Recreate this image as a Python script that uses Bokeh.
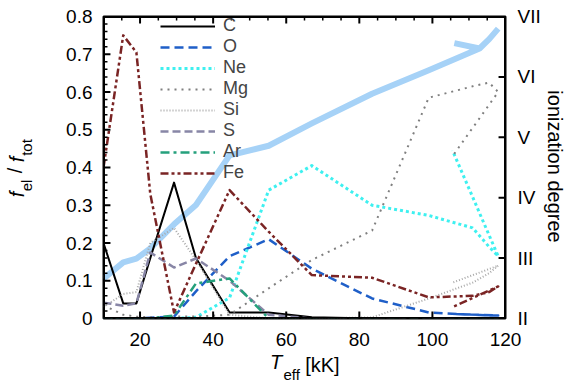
import numpy as np
from bokeh.plotting import figure
from bokeh.models import (Range1d, LinearAxis, FixedTicker, Legend, LegendItem,
                          ColumnDataSource, Span, BoxAnnotation)
from bokeh.embed import file_html
from bokeh.resources import INLINE

# ---------------- data ----------------
teff = [10, 15.4, 19, 22.8, 29.3, 35.3, 44.5, 55.2, 67, 83.5, 99, 111, 115.5, 118, 105.5]

frac_C  = [0.20, 0.04, 0.04, 0.16, 0.36, 0.16, 0.016, 0.016, 0.003, 0.0, 0.0, 0.0, 0.0, 0.0, 0.0]
frac_O  = [0.0, 0.0, 0.0, 0.002, 0.005, 0.072, 0.165, 0.21, 0.132, 0.053, 0.016, 0.01, 0.008, 0.008, 0.012]
frac_Ne = [0.0, 0.0, 0.0, 0.0, 0.0, 0.003, 0.055, 0.34, 0.405, 0.30, 0.273, 0.24, 0.19, 0.165, 0.445]
frac_Mg = [0.035, 0.01, 0.005, 0.003, 0.005, 0.005, 0.01, 0.08, 0.155, 0.233, 0.585, 0.615, 0.625, 0.60, 0.43]
frac_Si = [0.03, 0.065, 0.07, 0.20, 0.24, 0.155, 0.01, 0.0, 0.0, 0.003, 0.053, 0.095, 0.12, 0.14, 0.095]
frac_S  = [0.042, 0.034, 0.04, 0.175, 0.135, 0.159, 0.10, 0.01, 0.0, 0.0, 0.0, 0.0, 0.0, 0.0, 0.0]
frac_Ar = [0.0, 0.0, 0.0, 0.0, 0.008, 0.093, 0.106, 0.0, 0.0, 0.0, 0.0, 0.0, 0.0, 0.0, 0.0]
frac_Fe = [0.40, 0.75, 0.705, 0.33, 0.016, 0.145, 0.34, 0.23, 0.115, 0.108, 0.056, 0.06, 0.07, 0.085, 0.03]

# mean ionization degree (right axis); NaN separates the short spur near 106 kK
ion_teff   = [10, 15.4, 19, 22.8, 29.3, 35.3, 44.5, 55.2, 67, 83.5, 99, 112.9, 115.6, 118, float("nan"), 106, 112.9]
ion_degree = [2.66, 2.93, 2.99, 3.16, 3.56, 3.88, 4.70, 4.86, 5.23, 5.72, 6.11, 6.47, 6.63, 6.80, float("nan"), 6.56, 6.47]

elements = ["C", "O", "Ne", "Mg", "Si", "S", "Ar", "Fe"]

x_ticks = [20, 40, 60, 80, 100, 120]
x_minor = [15, 25, 30, 35, 45, 50, 55, 65, 70, 75, 85, 90, 95, 105, 110, 115]
y_ticks = [0, 0.1, 0.2, 0.3, 0.4, 0.5, 0.6, 0.7, 0.8]
y_tick_labels = ["0", "0.1", "0.2", "0.3", "0.4", "0.5", "0.6", "0.7", "0.8"]
y_minor = [0.02, 0.04, 0.06, 0.08, 0.12, 0.14, 0.16, 0.18, 0.22, 0.24, 0.26, 0.28,
           0.32, 0.34, 0.36, 0.38, 0.42, 0.44, 0.46, 0.48, 0.52, 0.54, 0.56, 0.58,
           0.62, 0.64, 0.66, 0.68, 0.72, 0.74, 0.76, 0.78]
roman_ticks = [2, 3, 4, 5, 6, 7]
roman_labels = ["II", "III", "IV", "V", "VI", "VII"]

# ---------------- styling ----------------
FONT = "Liberation Sans"
INK = "#000000"
styles = {
    "C":  dict(color="#000000", dash="solid",          width=2.0),
    "O":  dict(color="#1f5fc8", dash="9 5",            width=2.5),
    "Ne": dict(color="#3ef0f0", dash="3 3",            width=3.0),
    "Mg": dict(color="#7f7f7f", dash="2 5",            width=2.0),
    "Si": dict(color="#a8a8a8", dash="1 2",            width=2.0),
    "S":  dict(color="#8886a6", dash="8 4",            width=2.5),
    "Ar": dict(color="#25a07c", dash="9 4 3 4",        width=2.5),
    "Fe": dict(color="#7a2424", dash="8 3 3 3 3 3",    width=2.5),
}

X0, X1, Y0, Y1, D0, D1 = 10, 120, 0, 0.8, 2, 7
p = figure(width=568, height=388,
           x_range=Range1d(X0, X1), y_range=Range1d(Y0, Y1),
           output_backend="svg", toolbar_location=None,
           x_axis_location=None, y_axis_location=None,
           min_border_left=100, min_border_right=63,
           min_border_top=16, min_border_bottom=70)
p.extra_y_ranges = {"ion": Range1d(D0, D1)}
p.grid.visible = False
p.outline_line_color = INK
p.outline_line_width = 2
p.background_fill_color = None
p.border_fill_color = "#ffffff"

# frame size in pixels (used to convert pixel lengths to data lengths)
FW, FH = 405, 302
PXX = (X1 - X0) / FW
PXY = (Y1 - Y0) / FH
PXD = (D1 - D0) / FH


def xd(px):      # page pixel -> x data
    return X0 + (px - 100) * PXX


def yd(py):      # page pixel -> y data
    return Y0 + (318 - py) * PXY


def base_axis(ax, size, standoff, italic=False):
    ax.axis_line_color = None
    ax.major_tick_line_color = None
    ax.minor_tick_line_color = None
    ax.major_tick_in = 0
    ax.major_tick_out = 0
    ax.minor_tick_in = 0
    ax.minor_tick_out = 0
    ax.major_label_text_font = FONT
    ax.major_label_text_font_size = size
    ax.major_label_text_font_style = "italic" if italic else "normal"
    ax.major_label_text_color = INK
    ax.major_label_standoff = standoff


# numeric axes
left = LinearAxis(ticker=FixedTicker(ticks=y_ticks),
                  major_label_overrides=dict(zip(y_ticks, y_tick_labels)))
base_axis(left, "19px", 11)
p.add_layout(left, "left")

bottom = LinearAxis(ticker=FixedTicker(ticks=x_ticks))
base_axis(bottom, "19px", 14)
p.add_layout(bottom, "below")

right = LinearAxis(y_range_name="ion", ticker=FixedTicker(ticks=roman_ticks),
                   major_label_overrides=dict(zip(roman_ticks, roman_labels)))
base_axis(right, "19px", 12)
p.add_layout(right, "right")


def title_axis(side, pos, texts, size, standoff, italic=False, orientation="horizontal"):
    ax = LinearAxis(ticker=FixedTicker(ticks=pos),
                    major_label_overrides=dict(zip(pos, texts)))
    base_axis(ax, size, standoff, italic)
    ax.major_label_orientation = orientation
    p.add_layout(ax, side)


# x title: T_eff [kK]  (pieces placed as labels of stacked label-only axes)
title_axis("below", [xd(274)], ["T"], "20px", 2, italic=True)
title_axis("below", [xd(320.5)], ["[kK]"], "20px", -22)
title_axis("below", [xd(289.5)], ["eff"], "15px", -13)

# y title: f_el / f_tot (reading upward)
title_axis("left", [yd(185), yd(147)], ["el", "tot"], "15px", 29, orientation="vertical")
title_axis("left", [yd(194), yd(159)], ["f", "f"], "20px", -13, italic=True, orientation="vertical")
title_axis("left", [yd(170)], ["/"], "20px", -23, orientation="vertical")

# right title
title_axis("right", [yd(166)], ["ionization degree"], "20px", 0, orientation="vertical")

# ---------------- data lines ----------------
ion_src = ColumnDataSource(dict(x=np.array(ion_teff), y=np.array(ion_degree)))
p.line("x", "y", source=ion_src, y_range_name="ion", line_color="#a6d2f7",
       line_width=6, line_join="round")

series = {"C": frac_C, "O": frac_O, "Ne": frac_Ne, "Mg": frac_Mg,
          "Si": frac_Si, "S": frac_S, "Ar": frac_Ar, "Fe": frac_Fe}
items = []
for el in elements:
    st = styles[el]
    src = ColumnDataSource(dict(x=teff, y=series[el]))
    r = p.line("x", "y", source=src, line_color=st["color"], line_width=st["width"],
               line_dash=st["dash"], line_join="round")
    items.append(LegendItem(label=el, renderers=[r]))

# ---------------- frame border (several mechanisms, drawn on top) ----------------
for loc, dim in [(Y0, "width"), (Y1, "width"), (X0, "height"), (X1, "height")]:
    p.add_layout(Span(location=loc, dimension=dim, line_color=INK, line_width=3))
p.add_layout(BoxAnnotation(left=X0, right=X1, bottom=Y0, top=Y1, fill_alpha=0,
                           fill_color=None, line_color=INK, line_width=3))
frame_src = ColumnDataSource(dict(x=[X0, X1, X1, X0, X0], y=[Y0, Y0, Y1, Y1, Y0]))
p.line("x", "y", source=frame_src, line_color=INK, line_width=3, line_join="round")

# ---------------- inward ticks as thin filled bars ----------------
MAJ, MIN, HW = 7, 4, 1.0
ql, qr, qb, qt = [], [], [], []
for t in x_ticks:
    ql += [t - HW * PXX, t - HW * PXX]
    qr += [t + HW * PXX, t + HW * PXX]
    qb += [Y0, Y1 - MAJ * PXY]
    qt += [Y0 + MAJ * PXY, Y1]
for t in x_minor:
    ql.append(t - 0.75 * PXX)
    qr.append(t + 0.75 * PXX)
    qb.append(Y1 - MIN * PXY)
    qt.append(Y1)
for t in y_ticks:
    ql.append(X0)
    qr.append(X0 + MAJ * PXX)
    qb.append(t - HW * PXY)
    qt.append(t + HW * PXY)
for t in y_minor:
    ql.append(X0)
    qr.append(X0 + MIN * PXX)
    qb.append(t - 0.75 * PXY)
    qt.append(t + 0.75 * PXY)
tick_src = ColumnDataSource(dict(left=ql, right=qr, bottom=qb, top=qt))
p.quad(left="left", right="right", bottom="bottom", top="top", source=tick_src,
       fill_color=INK, line_color=None)

rtick_src = ColumnDataSource(dict(left=[X1 - MAJ * PXX] * len(roman_ticks),
                                  right=[X1] * len(roman_ticks),
                                  bottom=[t - HW * PXD for t in roman_ticks],
                                  top=[t + HW * PXD for t in roman_ticks]))
p.quad(left="left", right="right", bottom="bottom", top="top", source=rtick_src,
       y_range_name="ion", fill_color=INK, line_color=None)

legend = Legend(items=items, location=(57, 135), background_fill_alpha=0,
                border_line_color=None, padding=0, margin=0, spacing=-2,
                glyph_width=55, glyph_height=20, label_height=20, label_standoff=8,
                label_text_font=FONT, label_text_font_size="18px",
                label_text_line_height=1.0)
p.add_layout(legend)

open("out.html", "w").write(file_html(p, INLINE))
